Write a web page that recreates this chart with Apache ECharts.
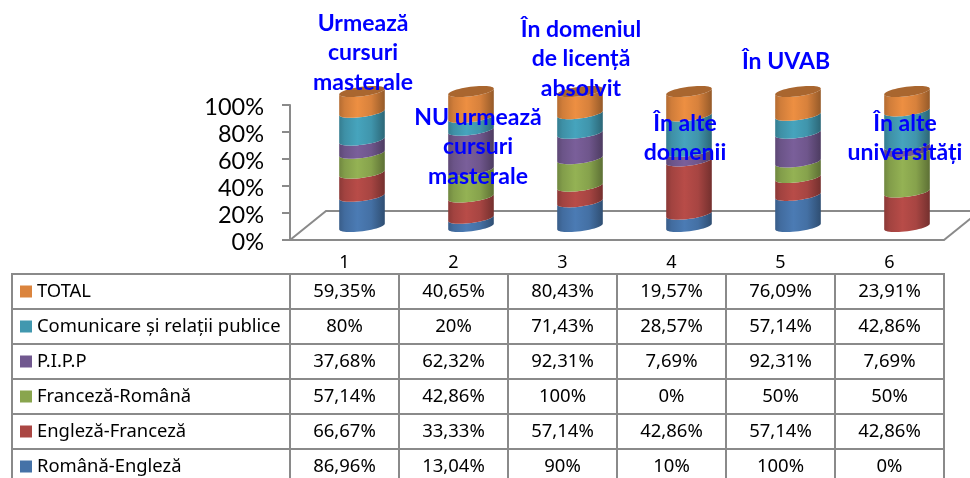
<!DOCTYPE html>
<html>
<head>
    <meta charset="utf-8">
    <title>ECharts</title>
    <style>html,body{margin:0;padding:0;background:#fff;overflow:hidden;height:478px}</style>
</head>
<body>
    <!-- tabelul continua putin sub marginea ferestrei -->
    <div id="main" style="width:970px;height:490px"></div>
    <script src="https://cdn.jsdelivr.net/npm/echarts@6/dist/echarts.min.js"></script>
    <script type="text/javascript">
    // categorii si valori citite din tabel
    var categories = ['1', '2', '3', '4', '5', '6'];
    var seriesNames = ['Română-Engleză', 'Engleză-Franceză', 'Franceză-Română', 'P.I.P.P', 'Comunicare și relații publice', 'TOTAL'];
    var romanaEngleza = [86.96, 13.04, 90, 10, 100, 0];
    var englezaFranceza = [66.67, 33.33, 57.14, 42.86, 57.14, 42.86];
    var francezaRomana = [57.14, 42.86, 100, 0, 50, 50];
    var pipp = [37.68, 62.32, 92.31, 7.69, 92.31, 7.69];
    var comunicare = [80, 20, 71.43, 28.57, 57.14, 42.86];
    var total = [59.35, 40.65, 80.43, 19.57, 76.09, 23.91];
    var seriesValues = [romanaEngleza, englezaFranceza, francezaRomana, pipp, comunicare, total];
    var colors = ['#4572A7', '#AA4643', '#89A54E', '#71588F', '#4198AF', '#DB843D'];

    // textele albastre de deasupra coloanelor
    var notes = ['Urmează\ncursuri\nmasterale', 'NU urmează\ncursuri\nmasterale', 'În domeniul\nde licență\nabsolvit', 'În alte\ndomenii', 'În UVAB', 'În alte\nuniversități'];
    var notePos = [[363, 53], [478, 147], [581, 59], [685, 138], [786, 62], [905, 138]];

    var GREY = '#8a8a8a';
    var FONT = 'Lato, "Noto Sans", sans-serif';
    var TABLE_FONT = '"Noto Sans", Lato, sans-serif';
    // decalajul 3D al coloanelor fata de axa
    var DX = 17.5, DY = -13.5, RX = 23, RY = 4.8, TILT = -7.5 * Math.PI / 180;

    function pct(v) {
        return String(v).replace('.', ',') + '%';
    }

    // inmulteste canalele RGB cu k
    function shade(hex, k) {
        var parts = [1, 3, 5].map(function (p) {
            return Math.min(255, Math.round(parseInt(hex.substr(p, 2), 16) * k));
        });
        return 'rgb(' + parts.join(',') + ')';
    }

    // punct pe elipsa inclinata
    function ell(cx, cy, t) {
        var a = RX * Math.cos(t), b = RY * Math.sin(t);
        return [cx + a * Math.cos(TILT) - b * Math.sin(TILT), cy + a * Math.sin(TILT) + b * Math.cos(TILT)];
    }

    function sideFill(c) {
        return new echarts.graphic.LinearGradient(0, 0, 1, 0, [
            { offset: 0, color: shade(c, 0.82) },
            { offset: 0.12, color: shade(c, 0.95) },
            { offset: 0.4, color: shade(c, 1.08) },
            { offset: 0.7, color: shade(c, 0.98) },
            { offset: 1, color: shade(c, 0.68) }
        ]);
    }

    function cylinderItem(sIdx) {
        return function (params, api) {
            var low = api.value(1), high = api.value(2);
            if (high <= low) return null;
            var x = api.coord([api.value(0), 0])[0] + DX;
            var y0 = api.coord([api.value(0), low])[1] + DY;
            var y1 = api.coord([api.value(0), high])[1] + DY;
            var pts = [], i, n = 24;
            for (i = 0; i <= n; i++) pts.push(ell(x, y0, Math.PI - Math.PI * i / n));
            for (i = 0; i <= n; i++) pts.push(ell(x, y1, Math.PI * i / n));
            var children = [{ type: 'polygon', shape: { points: pts }, style: { fill: sideFill(colors[sIdx]) } }];
            if (sIdx === colors.length - 1) {
                var top = [];
                for (i = 0; i < 48; i++) top.push(ell(x, y1, Math.PI * 2 * i / 48));
                children.push({ type: 'polygon', shape: { points: top }, style: { fill: shade(colors[sIdx], 0.77) } });
            }
            return { type: 'group', children: children };
        };
    }

    // procente stivuite pentru fiecare coloana
    var sums = categories.map(function (c, i) {
        return seriesValues.reduce(function (s, arr) { return s + arr[i]; }, 0);
    });
    var running = categories.map(function () { return 0; });
    var cylinderSeries = seriesValues.map(function (arr, s) {
        return {
            type: 'custom',
            name: seriesNames[s],
            xAxisIndex: 0,
            yAxisIndex: 0,
            z: 3,
            renderItem: cylinderItem(s),
            encode: { x: 0, y: 2 },
            data: arr.map(function (v, i) {
                var low = running[i];
                running[i] += v / sums[i] * 100;
                return [i, low, running[i]];
            })
        };
    });

    // podeaua graficului
    var floorSeries = {
        type: 'custom',
        xAxisIndex: 0,
        yAxisIndex: 0,
        z: 1,
        silent: true,
        data: [[0, 0]],
        renderItem: function (params, api) {
            var band = api.size([1, 0])[0];
            var p = api.coord([0, 0]);
            var l = p[0] - band / 2, r = l + band * categories.length, y = p[1];
            var ls = { stroke: GREY, lineWidth: 2, fill: null };
            return {
                type: 'group',
                children: [
                    { type: 'polyline', shape: { points: [[l, y], [l + 36, y - 29], [980, y - 29]] }, style: ls },
                    { type: 'line', shape: { x1: r, y1: y, x2: r + 36, y2: y - 29 }, style: ls }
                ]
            };
        }
    };

    // tabelul de date, de sus in jos
    var rows = seriesNames.slice().reverse();
    var tableData = [];
    rows.forEach(function (name, r) {
        var arr = seriesValues[seriesNames.length - 1 - r];
        arr.forEach(function (v, c) {
            tableData.push([c, name, v]);
        });
    });
    var tableSeries = {
        type: 'custom',
        xAxisIndex: 1,
        yAxisIndex: 1,
        z: 2,
        silent: true,
        data: tableData,
        encode: { x: 0, y: 1 },
        renderItem: function (params, api) {
            var p = api.coord([api.value(0), api.value(1)]);
            var s = api.size([1, 1]);
            var children = [
                { type: 'rect', shape: { x: p[0] - s[0] / 2, y: p[1] - s[1] / 2, width: s[0], height: s[1] }, style: { fill: null, stroke: GREY, lineWidth: 2 } },
                { type: 'text', style: { text: pct(api.value(2)), x: p[0], y: p[1], align: 'center', verticalAlign: 'middle', font: '18.5px ' + TABLE_FONT, fill: '#000' } }
            ];
            if (api.value(0) === 0) {
                children.push({ type: 'rect', shape: { x: 12, y: p[1] - s[1] / 2, width: p[0] - s[0] / 2 - 12, height: s[1] }, style: { fill: null, stroke: GREY, lineWidth: 2 } });
            }
            return { type: 'group', children: children };
        }
    };

    var rich = { t: { fontFamily: TABLE_FONT, fontSize: 18.4, color: '#000', padding: [0, 0, 0, 5] } };
    colors.forEach(function (c, i) {
        rich['k' + i] = { width: 12, height: 12, backgroundColor: c };
    });

    var myChart = echarts.init(document.getElementById('main'));
    var option = {
        animation: false,
        backgroundColor: '#fff',
        grid: [
            { left: 290, top: 105, width: 654, height: 135 },
            { left: 290, top: 274, width: 654, height: 210 }
        ],
        xAxis: [
            {
                type: 'category',
                gridIndex: 0,
                data: categories,
                axisLine: { lineStyle: { color: GREY, width: 2 } },
                axisTick: { length: 34, lineStyle: { color: GREY, width: 2 } },
                axisLabel: { color: '#000', fontFamily: TABLE_FONT, fontSize: 18, margin: 14 }
            },
            { type: 'category', gridIndex: 1, data: categories, show: false }
        ],
        yAxis: [
            {
                type: 'value',
                gridIndex: 0,
                min: 0,
                max: 100,
                interval: 20,
                splitLine: { show: false },
                axisLine: { show: true, lineStyle: { color: GREY, width: 2 } },
                axisTick: { show: true, length: 8, lineStyle: { color: GREY, width: 2 } },
                axisLabel: {
                    formatter: '{a|{value}%}',
                    margin: 26,
                    rich: { a: { color: '#000', fontFamily: FONT, fontSize: 23.5, padding: [4, 0, 0, 0] } }
                }
            },
            {
                type: 'category',
                gridIndex: 1,
                inverse: true,
                data: rows,
                axisLine: { show: false },
                axisTick: { show: false },
                axisLabel: {
                    interval: 0,
                    align: 'left',
                    margin: 270,
                    rich: rich,
                    formatter: function (value) {
                        return '{k' + seriesNames.indexOf(value) + '|}{t|' + value + '}';
                    }
                }
            }
        ],
        graphic: notes.map(function (txt, i) {
            return {
                type: 'text',
                z: 10,
                x: notePos[i][0],
                y: notePos[i][1],
                style: {
                    text: txt,
                    align: 'center',
                    verticalAlign: 'middle',
                    lineHeight: 29.5,
                    font: 'bold 23px ' + FONT,
                    fill: '#0000FF'
                }
            };
        }),
        series: [floorSeries].concat(cylinderSeries, [tableSeries])
    };
    myChart.setOption(option);
    </script>
</body>
</html>
